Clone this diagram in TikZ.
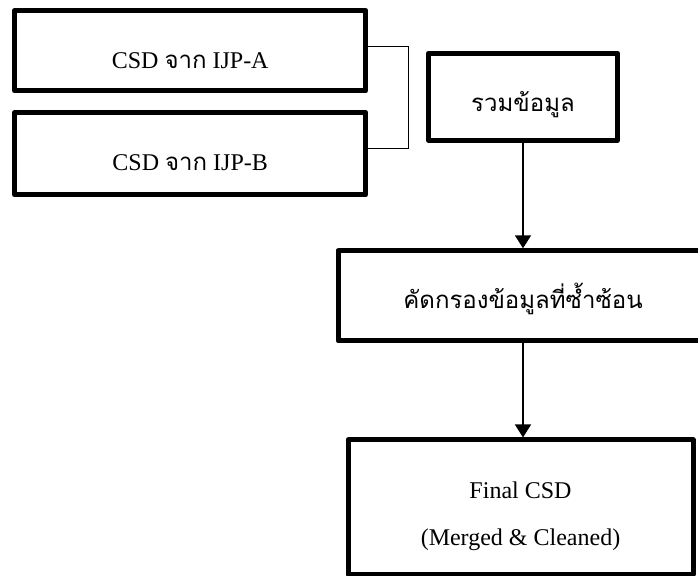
\documentclass[tikz,border=0pt]{standalone}
\usepackage{fontspec}
\setmainfont{Liberation Serif}
\newfontfamily\thaifont[Script=Thai]{Loma}
\usetikzlibrary{arrows.meta}
\tikzset{
  stepbox/.style={draw, line width=5pt, line join=round, inner sep=0pt,
    font=\fontsize{24}{29}\selectfont},
  thaibox/.style={stepbox, font=\thaifont\fontsize{24}{29}\selectfont},
  flow/.style={-{Triangle[length=13pt, width=16pt]}, line width=1.6pt},
  joinline/.style={line width=1.3pt},
}
% push the text down inside its box without moving the box
\newcommand{\lowtext}[2]{\raisebox{-#1}[0pt][0pt]{#2}}

\begin{document}
\begin{tikzpicture}[x=1pt, y=-1pt]
\clip (0,0) rectangle (698,575);

% ── Sources ─────────────────────────────────────────────
\node[stepbox, minimum width=351pt, minimum height=80.5pt] (srcA)
  at (190.2, 50.7) {\lowtext{17.6pt}{CSD {\thaifont จาก} IJP-A}};
\node[stepbox, minimum width=351pt, minimum height=82.5pt] (srcB)
  at (190.2, 153.7) {\lowtext{16.3pt}{CSD {\thaifont จาก} IJP-B}};

% ── Processing ──────────────────────────────────────────
\node[thaibox, minimum width=189pt, minimum height=87pt] (merge)
  at (523, 96.7) {\lowtext{15.3pt}{รวมข้อมูล}};
\node[thaibox, minimum width=370pt, minimum height=90pt] (dedup)
  at (523, 295.8) {\lowtext{12.5pt}{คัดกรองข้อมูลที่ซ้ำซ้อน}};

% ── Result ──────────────────────────────────────────────
\node[stepbox, minimum width=345pt, minimum height=134.5pt] (final)
  at (520.5, 507.2) {\raisebox{9pt}[0pt][0pt]{\begin{tabular}[t]{@{}c@{}}
    Final CSD\\[18pt](Merged \& Cleaned)\end{tabular}}};

% bracket joining the two sources
\coordinate (join) at (408.3, 100);
\draw[joinline] ([yshift=4pt]srcA.east) -| (join)
  |- ([yshift=5.4pt]srcB.east);

\draw[flow] (merge) -- (dedup);
\draw[flow] (dedup.south) -- (dedup.south |- final.north);

\end{tikzpicture}
\end{document}
